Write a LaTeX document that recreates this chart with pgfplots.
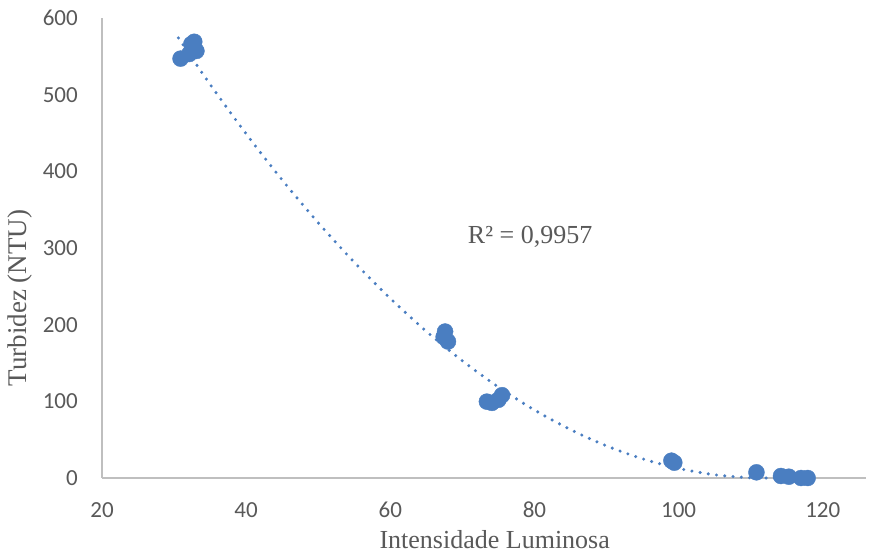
\documentclass[border=0pt]{standalone}
\usepackage{pgfplots}
\pgfplotsset{compat=1.18}
\usepackage{fontspec}
\setmainfont{Liberation Serif}
\newfontfamily\carlito{Carlito}
\definecolor{mk}{RGB}{74,126,193}
\definecolor{txt}{RGB}{89,89,89}
\definecolor{axl}{RGB}{191,191,191}
\begin{document}
\begin{tikzpicture}
\path[use as bounding box] (-102pt,-78pt) rectangle (778pt,478pt);
\begin{axis}[
  at={(0,0)}, anchor=south west,
  scale only axis, width=764pt, height=460pt,
  xmin=20, xmax=126, ymin=0, ymax=600,
  xtick={20,40,60,80,100,120}, ytick={0,100,200,300,400,500,600},
  axis x line=bottom, axis y line=left,
  axis line style={draw=axl, line width=1.3pt, -},
  major tick length=0pt,
  /pgf/number format/assume math mode=true,
  xticklabel style={font=\carlito\fontsize{23}{23}\selectfont, text=txt, anchor=center, yshift=-32pt, inner sep=0pt},
  yticklabel style={font=\carlito\fontsize{23}{23}\selectfont, text=txt, anchor=east, xshift=-24pt, inner sep=0pt},
  xlabel={Intensidade Luminosa},
  ylabel={Turbidez (NTU)},
  xlabel style={font=\fontsize{26}{26}\selectfont, text=txt, at={(axis description cs:0.514,-0.135)}, anchor=center},
  ylabel style={font=\fontsize{27}{27}\selectfont, text=txt, at={(axis description cs:-0.107,0.391)}, anchor=center},
  clip=false,
]
\addplot[mk, line width=3.4pt, line cap=round, dash pattern=on 0pt off 8.3pt, smooth] coordinates {
(30.6,574) (35,513.4) (40,448.9) (45,388.7) (50,332.9) (55,281.4) (60,234.2) (65,191.3) (70,152.8) (75,118.6) (80,88.7) (85,63.1) (90,41.9) (95,25.0) (100,12.5) (105,4.2) (110,0.3) (112,0) (115,0.8) (118,3.1)
};
\addplot[only marks, mark=*, mark size=8pt, mark options={fill=mk, draw=mk}] coordinates {
(30.9,547) (32.1,553) (32.4,566) (32.8,569) (33.1,557)
(67.6,191) (68.0,178) (67.4,184)
(73.4,99.6) (74.1,98) (75.5,108) (75.0,102)
(99.0,22.6) (99.4,20)
(110.8,7.4)
(114.2,2.6) (115.3,1.7) (117,0) (117.9,0)
};
\node[font=\fontsize{26}{26}\selectfont, text=txt, anchor=center] at (axis cs:79.4,314) {R² = 0,9957};
\end{axis}
\end{tikzpicture}
\end{document}
